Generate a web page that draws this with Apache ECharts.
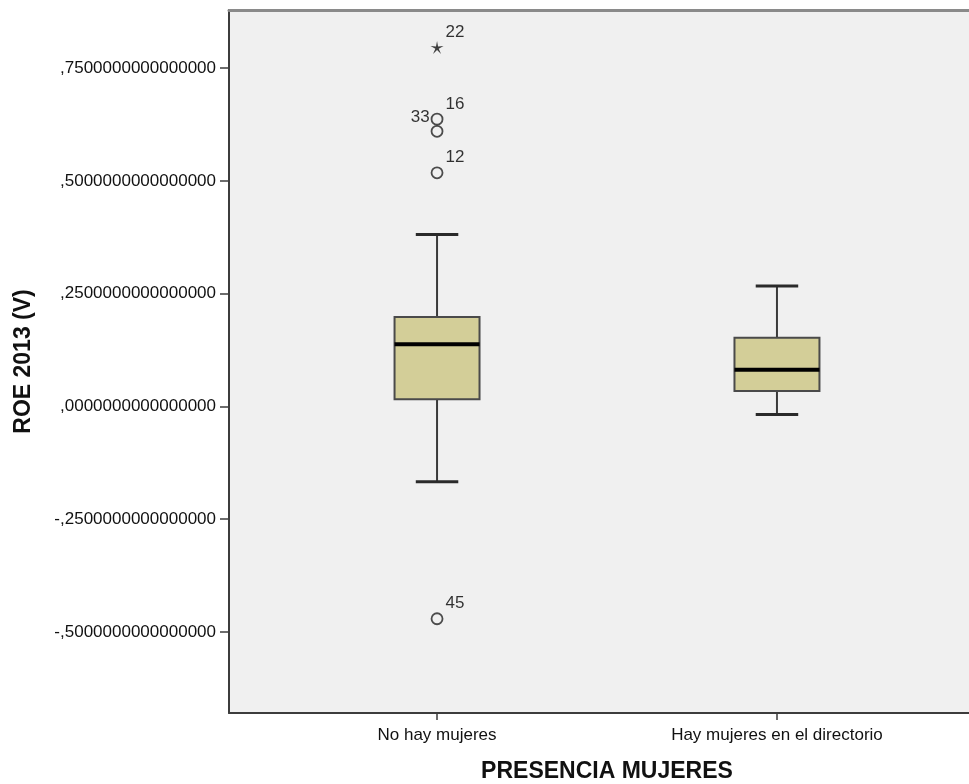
<!DOCTYPE html>
<html>
<head>
<meta charset="utf-8">
<script src="https://cdn.jsdelivr.net/npm/echarts@6/dist/echarts.min.js"></script>
<style>
  html, body { margin: 0; padding: 0; background: #ffffff; }
  #chart { width: 969px; height: 784px; }
</style>
</head>
<body>
<div id="chart"></div>
<script>
// Groups on the horizontal axis
var categories = ['No hay mujeres', 'Hay mujeres en el directorio'];

// Five-number summaries per group (ROE 2013)
var whiskerLow  = [-0.167, -0.018];
var quartile1   = [0.016, 0.034];
var medians     = [0.138, 0.081];
var quartile3   = [0.198, 0.152];
var whiskerHigh = [0.381, 0.267];

// Individual cases outside the whiskers
var outlierGroup  = [0, 0, 0, 0, 0];
var outlierValues = [0.796, 0.637, 0.610, 0.518, -0.471];
var outlierIds    = ['22', '16', '33', '12', '45'];
var outlierKinds  = ['extreme', 'outlier', 'outlier', 'outlier', 'outlier'];

// Vertical axis ticks
var yTicks = [-0.5, -0.25, 0, 0.25, 0.5, 0.75];

var FONT = '"Liberation Sans", Arial, sans-serif';

function spssNumber(v) {
  var s = v.toFixed(16);
  return s.replace(/^(-?)0\./, '$1,');
}

// Five-pointed asterisk shape for extreme cases
function asteriskPath() {
  var pts = [];
  for (var k = 0; k < 10; k++) {
    var r = (k % 2 === 0) ? 10 : 2.6;
    var a = (-90 + k * 36) * Math.PI / 180;
    pts.push((r * Math.cos(a)).toFixed(2) + ' ' + (r * Math.sin(a)).toFixed(2));
  }
  return 'path://M' + pts.join(' L') + ' Z';
}

var boxData = categories.map(function (c, i) {
  return [i + 1, whiskerLow[i], quartile1[i], medians[i], quartile3[i], whiskerHigh[i]];
});

var BOX_W = 0.25;   // box width in axis units
var CAP_W = 0.125;  // whisker cap width in axis units

function renderBox(params, api) {
  var x = api.value(0);
  var pLow = api.coord([x, api.value(1)]);
  var pQ1 = api.coord([x, api.value(2)]);
  var pMed = api.coord([x, api.value(3)]);
  var pQ3 = api.coord([x, api.value(4)]);
  var pHigh = api.coord([x, api.value(5)]);
  var bw = api.size([BOX_W, 0])[0];
  var cw = api.size([CAP_W, 0])[0];
  var cx = pMed[0];
  var whisker = { stroke: '#3a3a3a', lineWidth: 2 };
  var cap = { stroke: '#2a2a2a', lineWidth: 3 };
  return {
    type: 'group',
    children: [
      { type: 'line', shape: { x1: cx, y1: pQ3[1], x2: cx, y2: pHigh[1] }, style: whisker },
      { type: 'line', shape: { x1: cx, y1: pQ1[1], x2: cx, y2: pLow[1] }, style: whisker },
      { type: 'line', shape: { x1: cx - cw / 2, y1: pHigh[1], x2: cx + cw / 2, y2: pHigh[1] }, style: cap },
      { type: 'line', shape: { x1: cx - cw / 2, y1: pLow[1], x2: cx + cw / 2, y2: pLow[1] }, style: cap },
      { type: 'rect', shape: { x: cx - bw / 2, y: pQ3[1], width: bw, height: pQ1[1] - pQ3[1] },
        style: { fill: '#d3ce98', stroke: '#4a4a4a', lineWidth: 2 } },
      { type: 'line', shape: { x1: cx - bw / 2, y1: pMed[1], x2: cx + bw / 2, y2: pMed[1] },
        style: { stroke: '#000000', lineWidth: 4 } }
    ]
  };
}

var labelSide = { '33': 'left' };

var outlierPoints = outlierValues.map(function (v, i) {
  var isExtreme = outlierKinds[i] === 'extreme';
  var side = labelSide[outlierIds[i]] || 'right';
  return {
    value: [outlierGroup[i] + 1, v],
    name: outlierIds[i],
    symbol: isExtreme ? asteriskPath() : 'circle',
    symbolSize: isExtreme ? 13 : 11,
    itemStyle: isExtreme
      ? { color: '#111111', borderWidth: 0 }
      : { color: 'rgba(0,0,0,0)', borderColor: '#222222', borderWidth: 1.8 },
    label: {
      show: true,
      formatter: outlierIds[i],
      position: side,
      distance: side === 'left' ? 1 : 2,
      offset: side === 'left' ? [0, -14] : [0, -15],
      color: '#000000',
      fontFamily: FONT,
      fontSize: 17
    }
  };
});

var chart = echarts.init(document.getElementById('chart'), null, { renderer: 'canvas' });

chart.setOption({
  animation: false,
  backgroundColor: '#ffffff',
  grid: {
    left: 229,
    top: 10,
    width: 756,
    height: 703,
    containLabel: false,
    outerBoundsMode: 'none',
    show: true,
    backgroundColor: '#f0f0f0',
    borderWidth: 0
  },
  xAxis: [{
    type: 'value',
    min: 0.388,
    max: 2.612,
    splitLine: { show: false },
    axisLine: { show: true, onZero: false, lineStyle: { color: '#3c3c3c', width: 2 } },
    axisTick: { show: true, length: 7, customValues: [1, 2], lineStyle: { color: '#3c3c3c', width: 1.5 } },
    axisLabel: {
      show: true,
      customValues: [1, 2],
      margin: 14,
      color: '#111111',
      fontFamily: FONT,
      fontSize: 17,
      formatter: function (v) { return categories[Math.round(v) - 1] || ''; }
    },
    name: 'PRESENCIA MUJERES',
    nameLocation: 'middle',
    nameGap: 47,
    nameTextStyle: { color: '#111111', fontFamily: FONT, fontSize: 23, fontWeight: 'bold' }
  }, {
    type: 'value',
    position: 'top',
    min: 0.388,
    max: 2.612,
    splitLine: { show: false },
    axisLine: { show: true, onZero: false, lineStyle: { color: '#8a8a8a', width: 3 } },
    axisTick: { show: false },
    axisLabel: { show: false }
  }],
  yAxis: {
    type: 'value',
    min: -0.680,
    max: 0.879,
    splitLine: { show: false },
    axisLine: { show: true, onZero: false, lineStyle: { color: '#3c3c3c', width: 2 } },
    axisTick: { show: true, length: 9, customValues: yTicks, lineStyle: { color: '#3c3c3c', width: 1.5 } },
    axisLabel: {
      show: true,
      customValues: yTicks,
      margin: 13,
      color: '#111111',
      fontFamily: FONT,
      fontSize: 17,
      formatter: function (v) { return spssNumber(v); }
    },
    name: 'ROE 2013 (V)',
    nameLocation: 'middle',
    nameRotate: 90,
    nameGap: 194,
    nameTextStyle: { color: '#111111', fontFamily: FONT, fontSize: 23, fontWeight: 'bold' }
  },
  series: [{
    type: 'custom',
    xAxisIndex: 0,
    renderItem: renderBox,
    encode: { x: 0, y: [1, 2, 3, 4, 5] },
    data: boxData,
    z: 2
  }, {
    type: 'scatter',
    xAxisIndex: 0,
    data: outlierPoints,
    z: 3
  }]
});
</script>
</body>
</html>
